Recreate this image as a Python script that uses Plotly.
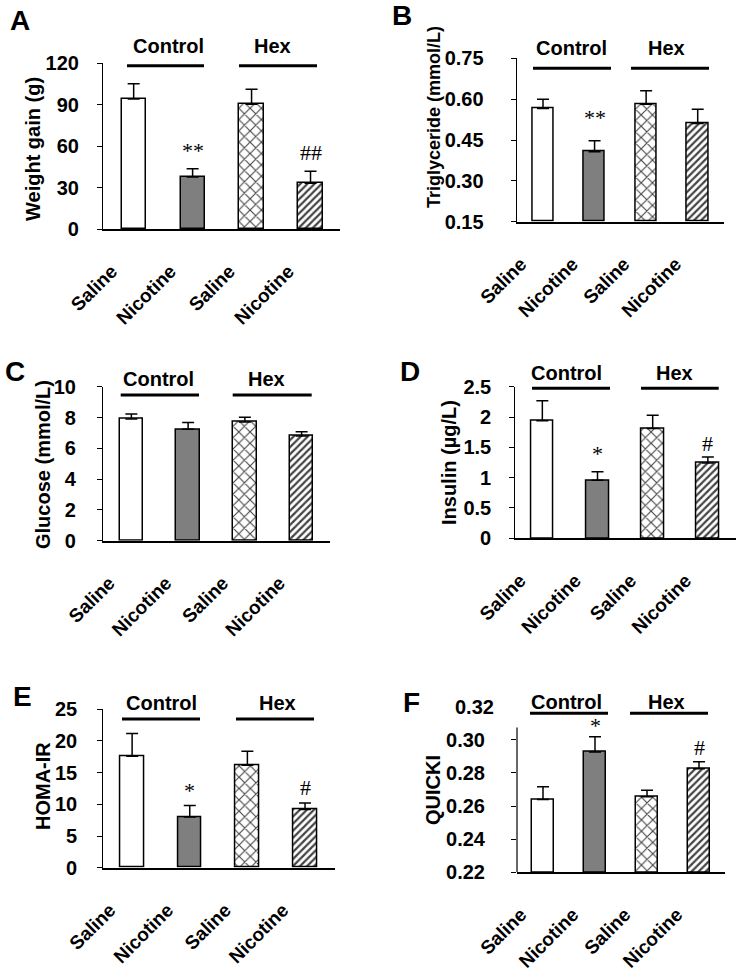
import plotly.graph_objects as go

# %% data
categories = ["Saline", "Nicotine", "Saline", "Nicotine"]

weight_gain = [94.0, 37.6, 90.1, 33.0]
weight_gain_err = [11.0, 6.0, 11.0, 8.7]
weight_gain_sig = ["", "**", "", "##"]

triglyceride = [0.566, 0.407, 0.581, 0.511]
triglyceride_err = [0.034, 0.040, 0.050, 0.052]
triglyceride_sig = ["", "**", "", ""]

glucose = [7.90, 7.23, 7.70, 6.80]
glucose_err = [0.32, 0.45, 0.32, 0.28]
glucose_sig = ["", "", "", ""]

insulin = [1.94, 0.956, 1.81, 1.24]
insulin_err = [0.33, 0.14, 0.22, 0.10]
insulin_sig = ["", "*", "", "#"]

homa_ir = [17.6, 8.0, 16.16, 9.2]
homa_ir_err = [3.6, 1.8, 2.2, 1.0]
homa_ir_sig = ["", "*", "", "#"]

quicki = [0.264, 0.2926, 0.2656, 0.2825]
quicki_err = [0.0077, 0.0092, 0.0040, 0.0042]
quicki_sig = ["", "*", "", "#"]

# %% layout helpers
W, H = 742, 968
SANS = "Arial, 'Liberation Sans', sans-serif"
SERIF = "'Times New Roman', 'Liberation Serif', serif"


def px(x):
    return x / W


def py(y):
    return 1 - y / H


# panel boxes in pixels: (x0, x1, ytop, ybottom)
panels = [
    dict(letter="A", title="Weight gain (g)", vals=weight_gain, err=weight_gain_err,
         sig=weight_gain_sig, sig_shift=[4, 4, 4, 4], box=(103, 340, 63, 229), rng=[0, 120],
         ticks=[0, 30, 60, 90, 120], fmt="{:g}", xr=[-0.52, 3.5], gap=14,
         letter_xy=(20, 20), title_xy=(33, 149), title_size=20,
         ctrl=(127, 204, 65.7), hex=(239, 317, 65.7), lab_y=46, ctrl_x=168, hex_x=272),
    dict(letter="B", title="Triglyceride (mmol/L)", vals=triglyceride, err=triglyceride_err,
         sig=triglyceride_sig, sig_shift=[9, 9, 9, 9], box=(516.7, 724, 58.3, 221.7),
         rng=[0.15, 0.75], ticks=[0.15, 0.30, 0.45, 0.60, 0.75], fmt="{:.2f}",
         xr=[-0.51, 3.51], gap=23,
         letter_xy=(402, 16), title_xy=(434, 117), title_size=18,
         ctrl=(533, 611, 68.3), hex=(631, 709, 68.3), lab_y=48, ctrl_x=571, hex_x=666),
    dict(letter="C", title="Glucose (mmol/L)", vals=glucose, err=glucose_err,
         sig=glucose_sig, sig_shift=[4, 4, 4, 4], box=(103, 330, 386.7, 540.7), rng=[0, 10],
         ticks=[0, 2, 4, 6, 8, 10], fmt="{:g}", xr=[-0.5, 3.5], gap=17,
         letter_xy=(15, 372), title_xy=(43, 465), title_size=20,
         ctrl=(120.7, 199, 395), hex=(232.7, 311.7, 395), lab_y=379, ctrl_x=158, hex_x=266),
    dict(letter="D", title="Insulin (µg/L)", vals=insulin, err=insulin_err,
         sig=insulin_sig, sig_shift=[4, 4, 4, -1], box=(515.3, 736, 386.7, 538.3),
         rng=[0, 2.5], ticks=[0, 0.5, 1, 1.5, 2, 2.5], fmt="{:g}", xr=[-0.49, 3.51], gap=14,
         letter_xy=(410, 372), title_xy=(449, 462), title_size=20,
         ctrl=(532, 610, 388.3), hex=(641, 718.7, 388.3), lab_y=373, ctrl_x=566, hex_x=674),
    dict(letter="E", title="HOMA-IR", vals=homa_ir, err=homa_ir_err,
         sig=homa_ir_sig, sig_shift=[1, 1, 1, 1], box=(103.3, 335, 709.3, 867.7), rng=[0, 25],
         ticks=[0, 5, 10, 15, 20, 25], fmt="{:g}", xr=[-0.5, 3.52], gap=16,
         letter_xy=(22, 696), title_xy=(43, 786), title_size=20,
         ctrl=(122, 200, 719), hex=(236, 314, 719), lab_y=703, ctrl_x=161, hex_x=277),
    dict(letter="F", title="QUICKI", vals=quicki, err=quicki_err,
         sig=quicki_sig, sig_shift=[-3, -3, 0, 0], box=(517, 725, 706.7, 872.3),
         rng=[0.22, 0.32], ticks=[0.22, 0.24, 0.26, 0.28, 0.30], fmt="{:.2f}",
         xr=[-0.5, 3.5], gap=22,
         letter_xy=(411, 702), title_xy=(433, 790), title_size=20,
         ctrl=(530, 608, 713.3), hex=(630, 708, 713.3), lab_y=701.7, ctrl_x=566, hex_x=666),
]

bar_colors = ["white", "#7f7f7f", "white", "white"]
bar_patterns = ["", "", "x", "/"]
pattern_sizes = [8, 8, 8, 5]
pattern_solidity = [0.3, 0.3, 0.26, 0.45]

fig = go.Figure()
annotations = []
shapes = []

for i, p in enumerate(panels, start=1):
    xa = "x" if i == 1 else f"x{i}"
    ya = "y" if i == 1 else f"y{i}"
    x0, x1, yt, yb = p["box"]
    floor = p["rng"][0]

    # bars measured from the axis floor
    fig.add_trace(go.Bar(
        x=list(range(len(categories))), y=[v - floor for v in p["vals"]], base=floor,
        width=0.41, xaxis=xa, yaxis=ya, showlegend=False,
        marker=dict(color=bar_colors, line=dict(color="black", width=1.5),
                    pattern=dict(shape=bar_patterns, fgcolor="black",
                                 fgopacity=1, size=pattern_sizes,
                                 solidity=pattern_solidity, fillmode="overlay")),
        error_y=dict(type="data", symmetric=False, array=p["err"], arrayminus=[0] * 4,
                     color="black", thickness=1.5, width=6),
    ))

    fig.update_layout({
        f"xaxis{'' if i == 1 else i}": dict(
            domain=[px(x0), px(x1)], anchor=ya, range=p["xr"], automargin=False,
            tickvals=list(range(len(categories))), ticktext=categories,
            tickangle=-45, ticks="", showline=True, linecolor="black", linewidth=1.5,
            showgrid=False, zeroline=False, ticklabelstandoff=22, ticklabelshift=-22,
            tickfont=dict(family=SANS, size=19, color="black", weight="bold")),
        f"yaxis{'' if i == 1 else i}": dict(
            domain=[py(yb), py(yt)], anchor=xa, range=p["rng"], automargin=False,
            tickvals=p["ticks"], ticktext=[p["fmt"].format(t) for t in p["ticks"]],
            ticks="outside", ticklen=5, tickwidth=1.2, tickcolor="black",
            showline=(p["letter"] != "F"), linecolor="black", linewidth=1.2,
            showgrid=False, zeroline=False, ticklabelstandoff=p["gap"],
            tickfont=dict(family=SANS, size=20, color="black", weight="bold")),
    })

    # panel letter
    annotations.append(dict(text=p["letter"], x=px(p["letter_xy"][0]), y=py(p["letter_xy"][1]),
                            xref="paper", yref="paper", showarrow=False,
                            xanchor="center", yanchor="middle",
                            font=dict(family=SANS, size=28, color="black", weight="bold")))
    # y title
    annotations.append(dict(text=p["title"], x=px(p["title_xy"][0]), y=py(p["title_xy"][1]),
                            xref="paper", yref="paper", showarrow=False, textangle=-90,
                            xanchor="center", yanchor="middle",
                            font=dict(family=SANS, size=p["title_size"], color="black",
                                      weight="bold")))
    # group labels and lines
    for label, gx, seg in (("Control", p["ctrl_x"], p["ctrl"]), ("Hex", p["hex_x"], p["hex"])):
        annotations.append(dict(text=label, x=px(gx), y=py(p["lab_y"]),
                                xref="paper", yref="paper", showarrow=False,
                                xanchor="center", yanchor="middle",
                                font=dict(family=SANS, size=20, color="black", weight="bold")))
        shapes.append(dict(type="line", xref="paper", yref="paper",
                           x0=px(seg[0]), x1=px(seg[1]), y0=py(seg[2]), y1=py(seg[2]),
                           line=dict(color="black", width=3)))
    # significance marks
    for j, s in enumerate(p["sig"]):
        if s:
            annotations.append(dict(text=s, x=j, y=p["vals"][j] + p["err"][j],
                                    xref=xa, yref=ya, showarrow=False,
                                    xanchor="center", yanchor="bottom",
                                    yshift=p["sig_shift"][j],
                                    font=dict(family=SERIF, size=22, color="black")))

# panel F: axis line stops short of the top tick, and 0.32 label has no tick
shapes.append(dict(type="line", xref="x6 domain", yref="y6", x0=0, x1=0,
                   y0=0.22, y1=0.3075, line=dict(color="black", width=1.2)))
annotations.append(dict(text="0.32", x=0, y=0.32, xref="x6 domain", yref="y6",
                        xanchor="right", yanchor="middle", xshift=-21, showarrow=False,
                        font=dict(family=SANS, size=20, color="black", weight="bold")))

fig.update_layout(
    width=W, height=H, margin=dict(l=0, r=0, t=0, b=0),
    paper_bgcolor="white", plot_bgcolor="white",
    bargap=0, annotations=annotations, shapes=shapes,
)

# the page body has a default margin; drop it so the figure sits at the window corner
fig.write_html("out.html", config={"displayModeBar": False},
               post_script="document.body.style.margin = '0';")
